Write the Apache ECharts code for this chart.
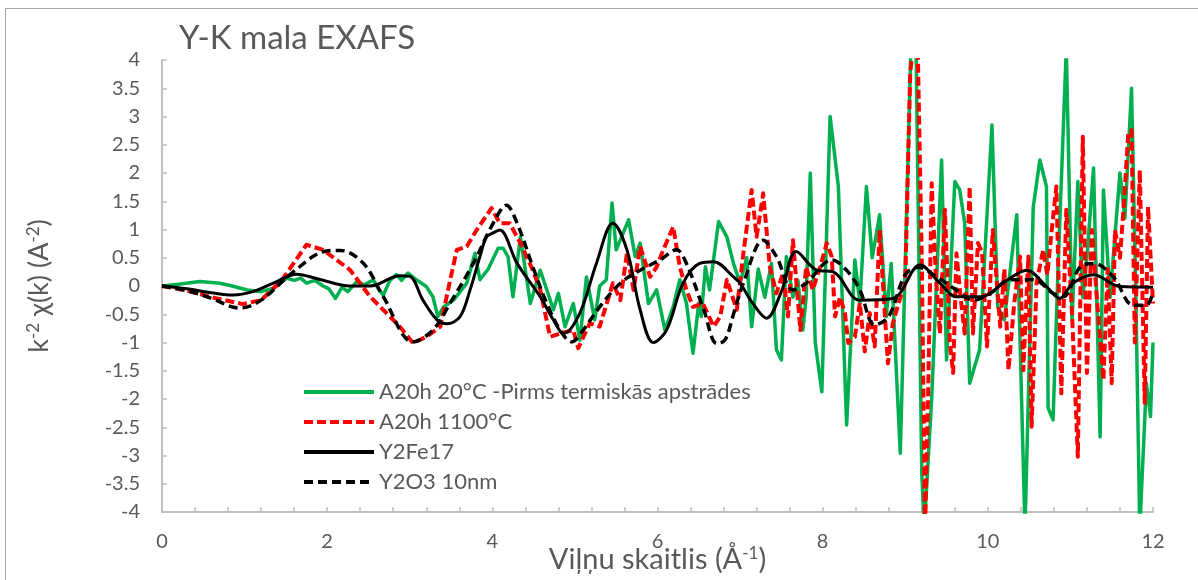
<!DOCTYPE html>
<html>
<head>
<meta charset="utf-8">
<script src="https://cdn.jsdelivr.net/npm/echarts@6/dist/echarts.min.js"></script>
<style>
  html, body { margin: 0; padding: 0; background: #fff; }
  #chart { width: 1198px; height: 580px; }
</style>
</head>
<body>
<div id="chart"></div>
<script>
// Y K-edge EXAFS: k^2-weighted chi(k) of the milled sample, the 1100 °C sample and two references
const titleText = 'Y-K mala EXAFS';
const seriesNames = ['A20h 20°C -Pirms termiskās apstrādes', 'A20h 1100°C', 'Y2Fe17', 'Y2O3 10nm'];

// [k (Å^-1), chi] pairs
const a20h20C = [
  [0,0],[0.2,0.03],[0.46,0.08],[0.7,0.05],[0.85,0.0],[1.03,-0.07],[1.2,-0.1],[1.35,-0.04],[1.51,0.14],[1.6,0.1],
  [1.68,0.14],[1.75,0.05],[1.85,0.1],[1.95,0.0],[2.02,-0.05],[2.1,-0.22],[2.18,-0.02],[2.25,-0.1],[2.36,0.08],[2.45,0.02],
  [2.56,0.11],[2.62,-0.05],[2.68,-0.16],[2.76,0.1],[2.84,0.2],[2.9,0.1],[2.98,0.23],[3.08,0.11],[3.2,-0.01],[3.28,-0.19],
  [3.34,-0.54],[3.41,-0.37],[3.53,-0.25],[3.69,0.05],[3.79,0.58],[3.85,0.11],[3.95,0.3],[4.07,0.67],[4.13,0.67],[4.19,0.52],
  [4.25,-0.19],[4.34,0.87],[4.46,-0.31],[4.58,0.28],[4.74,-0.42],[4.8,-0.13],[4.88,-0.72],[4.98,-0.31],[5.06,-0.96],[5.14,0.16],
  [5.24,-0.6],[5.3,0.0],[5.38,0.11],[5.45,1.47],[5.5,0.64],[5.65,1.17],[5.73,0.52],[5.79,0.76],[5.89,-0.31],[5.99,-0.07],
  [6.09,-0.78],[6.19,-0.37],[6.27,0.11],[6.35,-0.3],[6.43,-1.19],[6.5,-0.3],[6.53,-0.54],[6.58,0.34],[6.63,-0.07],[6.74,1.14],
  [6.84,0.87],[6.92,0.4],[7.0,0.05],[7.08,0.5],[7.14,-0.72],[7.22,0.3],[7.3,-0.2],[7.38,0.4],[7.44,-1.13],[7.5,-1.31],
  [7.56,0.52],[7.64,-0.2],[7.7,0.1],[7.76,-0.78],[7.8,-0.2],[7.85,2.0],[7.91,-1.0],[7.99,-1.87],[8.09,3.0],[8.19,1.76],
  [8.29,-2.46],[8.39,0.46],[8.45,-0.3],[8.53,1.76],[8.6,0.5],[8.69,1.26],[8.77,-0.54],[8.83,0.4],[8.94,-2.96],[9.07,4.3],
  [9.13,4.3],[9.2,-3.3],[9.23,-4.3],[9.32,-2.0],[9.44,2.23],[9.5,-1.31],[9.6,1.85],[9.66,1.7],[9.72,1.11],[9.78,-1.72],
  [9.9,-1.13],[10.05,2.85],[10.12,-0.37],[10.2,-0.6],[10.35,1.26],[10.45,-4.3],[10.55,1.4],[10.63,2.23],[10.71,1.76],[10.73,-2.16],
  [10.79,-2.37],[10.85,0.3],[10.95,4.2],[11.02,-0.6],[11.09,1.85],[11.15,-0.2],[11.2,0.5],[11.28,2.09],[11.36,-2.67],[11.4,1.7],
  [11.48,-0.2],[11.6,2.0],[11.66,1.2],[11.74,3.5],[11.79,0.0],[11.84,-4.3],[11.92,-1.72],[11.97,-2.31],[12,-1.0]
];

const a20h1100C = [
  [0,0],[0.3,-0.08],[0.6,-0.2],[0.98,-0.32],[1.2,-0.25],[1.45,0.1],[1.75,0.73],[1.95,0.64],[2.28,0.28],[2.52,-0.19],
  [2.76,-0.54],[2.88,-0.72],[3.04,-1.01],[3.2,-0.9],[3.37,-0.72],[3.49,0.11],[3.57,0.64],[3.69,0.7],[3.81,0.99],[3.99,1.38],
  [4.09,1.11],[4.21,1.11],[4.34,0.76],[4.49,0.28],[4.58,-0.07],[4.7,-0.9],[4.82,-0.84],[4.98,-0.78],[5.04,-1.1],[5.18,-0.66],
  [5.3,-0.72],[5.46,0.05],[5.55,-0.25],[5.63,0.58],[5.71,-0.07],[5.79,0.7],[5.91,0.16],[5.99,0.34],[6.07,0.64],[6.19,1.05],
  [6.27,0.34],[6.35,-0.07],[6.43,-0.37],[6.55,-0.31],[6.68,-0.72],[6.76,-0.54],[6.84,0.11],[6.96,-0.42],[7.04,0.58],[7.14,1.7],
  [7.2,0.87],[7.28,1.64],[7.36,0.34],[7.44,-0.13],[7.52,0.23],[7.58,-0.54],[7.64,0.81],[7.73,-0.78],[7.8,0.34],[7.88,-0.07],
  [7.97,0.34],[8.05,0.76],[8.11,0.52],[8.15,-0.54],[8.21,-0.2],[8.27,-0.48],[8.31,-1.01],[8.39,-0.9],[8.45,-0.3],[8.51,-1.16],
  [8.57,-0.48],[8.63,-1.07],[8.69,0.99],[8.74,-0.2],[8.79,-1.37],[8.85,-0.66],[8.92,-0.3],[9.0,0.05],[9.06,3.77],[9.1,4.3],
  [9.15,4.3],[9.2,0.5],[9.24,-4.3],[9.28,-1.7],[9.32,1.82],[9.37,0.2],[9.42,-0.84],[9.48,1.35],[9.54,-1.0],[9.58,-1.54],
  [9.62,0.58],[9.67,-0.2],[9.72,-0.84],[9.78,1.76],[9.82,-0.84],[9.88,0.76],[9.93,0.6],[9.99,-1.07],[10.06,0.99],[10.15,-0.72],
  [10.2,0.3],[10.25,-1.49],[10.32,-0.3],[10.39,0.52],[10.43,-1.49],[10.49,0.52],[10.53,-2.49],[10.59,0.05],[10.67,0.64],[10.72,0.2],
  [10.77,0.94],[10.83,1.76],[10.89,-1.9],[10.95,1.35],[11.02,-0.5],[11.09,-3.02],[11.15,2.64],[11.2,-1.54],[11.26,0.99],[11.33,-0.4],
  [11.4,-1.66],[11.45,0.3],[11.5,-1.72],[11.54,0.99],[11.6,0.5],[11.65,1.5],[11.7,2.7],[11.74,2.76],[11.78,-1.0],[11.84,2.05],
  [11.9,-2.07],[11.94,1.4],[12,-0.31]
];

const y2fe17 = [
  [0,0],[0.3,-0.05],[0.6,-0.12],[0.86,-0.16],[1.1,-0.1],[1.35,0.05],[1.63,0.21],[1.9,0.12],[2.28,0.0],[2.52,0.0],
  [2.88,0.18],[3.0,0.17],[3.16,-0.25],[3.33,-0.6],[3.45,-0.67],[3.61,-0.54],[3.73,-0.07],[3.85,0.52],[3.93,0.87],[4.01,0.94],
  [4.09,0.99],[4.3,0.4],[4.58,-0.19],[4.74,-0.6],[4.86,-0.84],[5.06,-0.48],[5.26,0.4],[5.46,1.11],[5.63,0.64],[5.79,-0.42],
  [5.95,-1.0],[6.11,-0.78],[6.31,0.05],[6.51,0.4],[6.68,0.43],[6.92,0.16],[7.0,0.05],[7.15,-0.3],[7.32,-0.57],[7.5,-0.1],
  [7.68,0.61],[7.93,0.28],[8.13,0.25],[8.45,-0.25],[8.85,-0.22],[9.18,0.37],[9.42,0.05],[9.62,-0.19],[9.91,-0.19],[10.23,0.1],
  [10.47,0.28],[10.71,-0.01],[10.87,-0.22],[11.03,0.05],[11.28,0.2],[11.6,-0.01],[12,-0.02]
];

const y2o3 = [
  [0,0],[0.3,-0.08],[0.6,-0.22],[0.94,-0.39],[1.2,-0.25],[1.59,0.25],[1.99,0.62],[2.16,0.63],[2.44,0.4],[2.68,-0.19],
  [3.04,-0.99],[3.28,-0.78],[3.49,-0.3],[3.77,0.4],[4.01,1.11],[4.17,1.43],[4.3,1.11],[4.49,0.34],[4.66,-0.31],[4.82,-0.78],
  [4.96,-0.99],[5.1,-0.78],[5.3,-0.37],[5.55,0.05],[5.79,0.28],[6.03,0.46],[6.23,0.64],[6.35,0.4],[6.56,-0.42],[6.72,-1.02],
  [6.82,-0.95],[6.92,-0.5],[7.04,0.05],[7.28,0.81],[7.44,0.52],[7.64,-0.07],[7.8,0.05],[8.11,0.46],[8.29,0.28],[8.45,-0.07],
  [8.63,-0.69],[8.8,-0.54],[9.0,0.2],[9.16,0.33],[9.38,0.16],[9.62,-0.07],[9.82,-0.25],[10.03,-0.13],[10.27,0.11],[10.55,0.11],
  [10.79,-0.13],[10.91,-0.19],[11.12,0.34],[11.28,0.4],[11.52,0.16],[11.76,-0.34],[11.92,-0.34],[12,-0.1]
];

const xTicks = { min: 0, max: 12, interval: 2 };
const yTicks = { min: -4, max: 4, interval: 0.5 };

const FONT = 'Lato, "Open Sans", sans-serif';
const TEXT = '#595959';
const AXIS = '#bfbfbf';

const chart = echarts.init(document.getElementById('chart'), null, { renderer: 'canvas' });

const redDash = [9, 4];
const blackDash = [9, 5];

chart.setOption({
  animation: false,
  backgroundColor: '#fff',
  textStyle: { fontFamily: FONT },
  title: {
    text: titleText,
    left: 174, top: 17,
    textStyle: { fontFamily: FONT, fontSize: 33, fontWeight: 'normal', color: TEXT }
  },
  graphic: [{
    type: 'rect', silent: true, z: -1,
    shape: { x: 5.5, y: 8.5, width: 1300, height: 700 },
    style: { fill: 'none', stroke: '#a6a6a6', lineWidth: 1 }
  }],
  legend: {
    orient: 'vertical',
    left: 297, top: 376,
    itemWidth: 70, itemHeight: 14, itemGap: 8,
    itemStyle: { opacity: 0 },
    lineStyle: { width: 4 },
    textStyle: { fontFamily: FONT, fontSize: 22, color: TEXT },
    data: seriesNames
  },
  grid: { left: 162, right: 45, top: 60, bottom: 68, outerBoundsMode: 'none', containLabel: false },
  xAxis: {
    type: 'value',
    min: xTicks.min, max: xTicks.max, interval: xTicks.interval,
    name: 'Viļņu skaitlis (Å{sup|-1})',
    nameLocation: 'middle', nameGap: 33, nameMoveOverlap: false,
    nameTextStyle: {
      fontFamily: FONT, fontSize: 29, color: TEXT,
      rich: { sup: { fontFamily: FONT, fontSize: 17, color: TEXT, padding: [0, 0, 12, 0] } }
    },
    axisLine: { onZero: false, lineStyle: { color: AXIS, width: 2 } },
    axisTick: { inside: true, length: 5, lineStyle: { color: AXIS, width: 1.5 } },
    minorTick: { show: true, splitNumber: 5, length: 5, lineStyle: { color: AXIS, width: 1.5 } },
    axisLabel: { margin: 20, fontFamily: FONT, fontSize: 20, color: TEXT },
    splitLine: { show: false }
  },
  yAxis: {
    type: 'value',
    min: yTicks.min, max: yTicks.max, interval: yTicks.interval,
    name: 'k{sup|-2} χ(k) (A{sup|-2})',
    nameLocation: 'middle', nameGap: 108, nameRotate: 90, nameMoveOverlap: false,
    nameTextStyle: {
      fontFamily: FONT, fontSize: 27, color: TEXT,
      rich: { sup: { fontFamily: FONT, fontSize: 17, color: TEXT, padding: [0, 0, 12, 0] } }
    },
    axisLine: { show: true, onZero: false, lineStyle: { color: AXIS, width: 2 } },
    axisTick: { show: true, inside: true, length: 5, lineStyle: { color: AXIS, width: 1.5 } },
    axisLabel: { margin: 22, fontFamily: FONT, fontSize: 20, color: TEXT },
    splitLine: { show: false }
  },
  series: [
    {
      name: seriesNames[0], type: 'line', data: a20h20C, symbol: 'none', z: 1,
      lineStyle: { color: '#00b050', width: 3.5, join: 'round' }, itemStyle: { color: '#00b050' }
    },
    {
      name: seriesNames[1], type: 'line', data: a20h1100C, symbol: 'none', z: 2,
      lineStyle: { color: '#ff0000', width: 4, type: redDash, join: 'round' }, itemStyle: { color: '#ff0000' }
    },
    {
      name: seriesNames[2], type: 'line', data: y2fe17, symbol: 'none', smooth: 0.35, z: 3,
      lineStyle: { color: '#000000', width: 3 }, itemStyle: { color: '#000000' }
    },
    {
      name: seriesNames[3], type: 'line', data: y2o3, symbol: 'none', smooth: 0.35, z: 4,
      lineStyle: { color: '#000000', width: 3.5, type: blackDash }, itemStyle: { color: '#000000' }
    }
  ]
});
</script>
</body>
</html>
